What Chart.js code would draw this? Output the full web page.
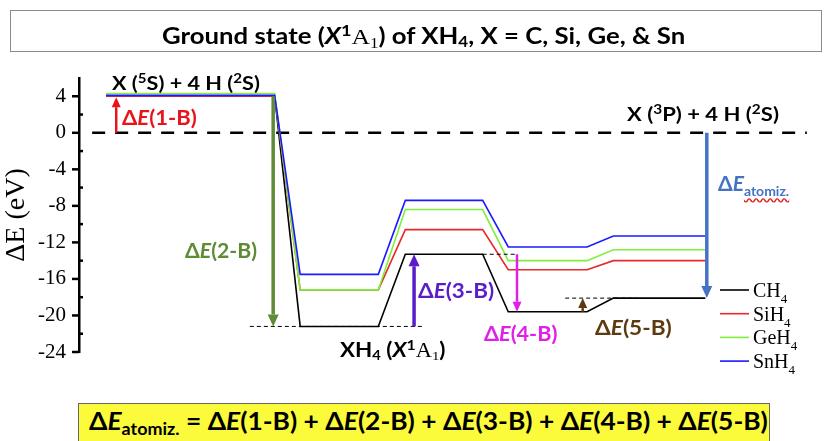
<!DOCTYPE html>
<html>
<head>
<meta charset="utf-8">
<script src="https://cdn.jsdelivr.net/npm/chart.js@4.4.1/dist/chart.umd.min.js"></script>
<style>
body{margin:0;background:#fff;overflow:hidden}
#wrap{position:relative;width:833px;height:441px;font-family:Lato,"Open Sans",sans-serif}
#c{position:absolute;left:0;top:0}
.lbl{position:absolute;font-weight:bold;white-space:nowrap;line-height:1;transform-origin:left center;
  transform:translateY(-50%) scaleX(var(--sx,1))}
.serif{font-family:"Liberation Serif",serif;font-weight:normal}
.up{font-size:70%;vertical-align:0.5em}
.dn{font-size:66%;vertical-align:-0.25em}
#titlebox{position:absolute;left:10px;top:10px;width:810px;height:40px;border:1.5px solid #8a8a8a;
  text-align:center;line-height:38px;font-weight:bold;font-size:22px}
#titlebox span.t{display:inline-block;transform:scaleX(1.17);margin-left:16px}
#sumbox{position:absolute;left:78px;top:403px;width:692px;height:44px;background:#fbfb3c;border:1px solid #666;
  font-weight:bold;font-size:25px;line-height:33px;padding-left:10px;box-sizing:border-box}
#sumbox span.t{display:inline-block;transform-origin:left center;transform:scaleX(1.055)}
</style>
</head>
<body>
<div id="wrap">
<canvas id="c" width="833" height="441"></canvas>
<div id="titlebox"><span class="t">Ground state (<i>X</i><span class="up">1</span><span class="serif">A<span class="dn">1</span></span>) of XH<span class="dn">4</span>, X = C, Si, Ge, &amp; Sn</span></div>

<div class="lbl" style="left:112px;top:82px;font-size:19px;--sx:1.14">X (<span class="up">5</span>S) + 4 H (<span class="up">2</span>S)</div>
<div class="lbl" style="left:627px;top:113px;font-size:19px;--sx:1.16">X (<span class="up">3</span>P) + 4 H (<span class="up">2</span>S)</div>
<div class="lbl" style="left:340px;top:350px;font-size:20px;--sx:1.12">XH<span class="dn">4</span> (<i>X</i><span class="up">1</span><span class="serif">A<span class="dn">1</span></span>)</div>

<div class="lbl" style="left:122px;top:117px;font-size:20px;--sx:1.1;color:#e8141c">&Delta;<i>E</i>(1-B)</div>
<div class="lbl" style="left:185px;top:250px;font-size:20px;--sx:1.06;color:#5f8a36">&Delta;<i>E</i>(2-B)</div>
<div class="lbl" style="left:418px;top:290px;font-size:20px;--sx:1.12;color:#5a1ec8">&Delta;<i>E</i>(3-B)</div>
<div class="lbl" style="left:484px;top:333px;font-size:20px;--sx:1.08;color:#e020e8">&Delta;<i>E</i>(4-B)</div>
<div class="lbl" style="left:595px;top:327px;font-size:20px;--sx:1.13;color:#5e3a10">&Delta;<i>E</i>(5-B)</div>
<div class="lbl" style="left:718px;top:185px;font-size:21px;color:#4472c4">&Delta;<i>E</i><span style="font-size:14px;vertical-align:-0.4em;text-decoration:underline wavy #e02020">atomiz.</span></div>

<div id="sumbox"><span class="t">&Delta;<i>E</i><span style="font-size:17px;vertical-align:-0.3em">atomiz.</span> = &Delta;<i>E</i>(1-B) + &Delta;<i>E</i>(2-B) + &Delta;<i>E</i>(3-B) + &Delta;<i>E</i>(4-B) + &Delta;<i>E</i>(5-B)</span></div>
</div>

<script>
// posiciones de los niveles (coordenada de reaccion, 0-100)
const levelStart = [3.7, 30.3, 44.7, 58.8, 73.2];
const levelEnd = [26.8, 41.0, 55.3, 69.6, 85.8];

// energias (eV) de cada nivel
const ch4 = [4.0, -21.2, -13.3, -19.6, -18.1];
const sih4 = [4.0, -17.2, -10.6, -15.0, -14.0];
const geh4 = [4.3, -17.2, -8.4, -14.0, -12.8];
const snh4 = [4.1, -15.5, -7.4, -12.5, -11.3];

const seriesNames = ['CH4', 'SiH4', 'GeH4', 'SnH4'];
const seriesColors = ['#000000', '#e8282a', '#7ff03a', '#1a1aff'];

// linea de cero punteada
const zeroLineX = [1.8, 99.7];

// lineas guia punteadas finas
const guideY = [-21.2, -13.3, -18.1];
const guideFrom = [23.4, 55.3, 66.6];
const guideTo = [47.0, 60.1, 76.4];

// flechas: posicion x, desde, hasta
const arrowX = [5.1, 26.6, 45.9, 60.0, 69.0, 86.0];
const arrowFrom = [0, 4.0, -21.2, -13.3, -19.6, 0];
const arrowTo = [3.9, -21.2, -13.3, -19.6, -18.1, -18.1];
const arrowColors = ['#e8141c', '#5f8a36', '#5a1ec8', '#e020e8', '#5e3a10', '#4472c4'];
const arrowWidths = [2.5, 3.5, 3.5, 2.5, 2.5, 3.5];

// marcas del eje y
const yMin = -24, yMax = 6, yStep = 2;

function buildPoints(levels) {
    const pts = [];
    for (let i = 0; i < levels.length; i++) {
        pts.push({x: levelStart[i], y: levels[i]});
        pts.push({x: levelEnd[i], y: levels[i]});
    }
    return pts;
}

const allLevels = [ch4, sih4, geh4, snh4];
const datasets = allLevels.map((lv, i) => ({
    label: seriesNames[i],
    data: buildPoints(lv),
    borderColor: seriesColors[i],
    borderWidth: 1.6,
    order: 10 - i   // SnH4 queda encima
}));
datasets.push({
    label: 'zero',
    data: zeroLineX.map(x => ({x: x, y: 0})),
    borderColor: '#000',
    borderWidth: 2.6,
    borderDash: [13, 10],
    order: 20
});

function drawArrow(ctx, x, y0, y1, color, w) {
    const dir = Math.sign(y1 - y0);
    const head = w > 3 ? 12 : 10;
    const half = w > 3 ? 5.5 : 4.5;
    ctx.strokeStyle = color;
    ctx.lineWidth = w;
    ctx.setLineDash([]);
    ctx.beginPath();
    ctx.moveTo(x, y0);
    ctx.lineTo(x, y1 - dir * head);
    ctx.stroke();
    ctx.fillStyle = color;
    ctx.beginPath();
    ctx.moveTo(x, y1);
    ctx.lineTo(x - half, y1 - dir * head);
    ctx.lineTo(x + half, y1 - dir * head);
    ctx.closePath();
    ctx.fill();
}

const decor = {
    id: 'decor',
    afterDatasetsDraw(chart) {
        const ctx = chart.ctx;
        const xs = chart.scales.x, ys = chart.scales.y;
        ctx.save();
        // guias
        ctx.strokeStyle = '#000';
        ctx.lineWidth = 1;
        ctx.setLineDash([4, 3]);
        for (let i = 0; i < guideY.length; i++) {
            const py = ys.getPixelForValue(guideY[i]);
            ctx.beginPath();
            ctx.moveTo(xs.getPixelForValue(guideFrom[i]), py);
            ctx.lineTo(xs.getPixelForValue(guideTo[i]), py);
            ctx.stroke();
        }
        // flechas
        for (let i = 0; i < arrowX.length; i++) {
            drawArrow(ctx, xs.getPixelForValue(arrowX[i]),
                ys.getPixelForValue(arrowFrom[i]), ys.getPixelForValue(arrowTo[i]),
                arrowColors[i], arrowWidths[i]);
        }
        // marcas del eje: mayores hacia afuera, menores hacia adentro
        const ax = chart.chartArea.left;
        ctx.strokeStyle = '#000';
        ctx.lineWidth = 2.5;
        for (let v = yMin; v < yMax; v += yStep) {
            const py = ys.getPixelForValue(v);
            ctx.beginPath();
            if (v % 4 === 0) { ctx.moveTo(ax - 7, py); ctx.lineTo(ax, py); }
            else { ctx.moveTo(ax, py); ctx.lineTo(ax + 4, py); }
            ctx.stroke();
        }
        // leyenda con subindices
        const lx = 720, ly0 = 290, dy = 23.7;
        for (let i = 0; i < seriesNames.length; i++) {
            const py = ly0 + i * dy;
            ctx.strokeStyle = seriesColors[i];
            ctx.lineWidth = 1.6;
            ctx.beginPath();
            ctx.moveTo(lx, py);
            ctx.lineTo(lx + 29, py);
            ctx.stroke();
            const name = seriesNames[i];
            const base = name.slice(0, -1);
            ctx.fillStyle = '#000';
            ctx.textBaseline = 'alphabetic';
            ctx.font = '20px "Liberation Serif"';
            ctx.fillText(base, lx + 33, py + 7);
            const w = ctx.measureText(base).width;
            ctx.font = '13px "Liberation Serif"';
            ctx.fillText(name.slice(-1), lx + 33 + w, py + 13);
        }
        ctx.restore();
    }
};

new Chart(document.getElementById('c'), {
    type: 'line',
    data: {datasets: datasets},
    options: {
        responsive: false,
        animation: false,
        layout: {padding: {top: 78, bottom: 89, right: 24, left: 0}},
        plugins: {legend: {display: false}, tooltip: {enabled: false}},
        elements: {point: {radius: 0}, line: {tension: 0}},
        scales: {
            x: {type: 'linear', min: 0, max: 100, display: false},
            y: {
                min: yMin, max: yMax,
                afterFit(s) { s.width = 79; },
                ticks: {
                    stepSize: yStep, autoSkip: false, padding: 13, color: '#000',
                    font: {family: 'Liberation Serif', size: 21},
                    callback: v => (v % 4 === 0 ? v : '')
                },
                grid: {display: true, drawOnChartArea: false, drawTicks: false},
                border: {display: true, color: '#000', width: 2.5},
                title: {display: true, text: 'ΔE (eV)', color: '#000',
                    font: {family: 'Liberation Serif', size: 28}, padding: {top: 0, bottom: 0}}
            }
        }
    },
    plugins: [decor]
});
</script>
</body>
</html>
